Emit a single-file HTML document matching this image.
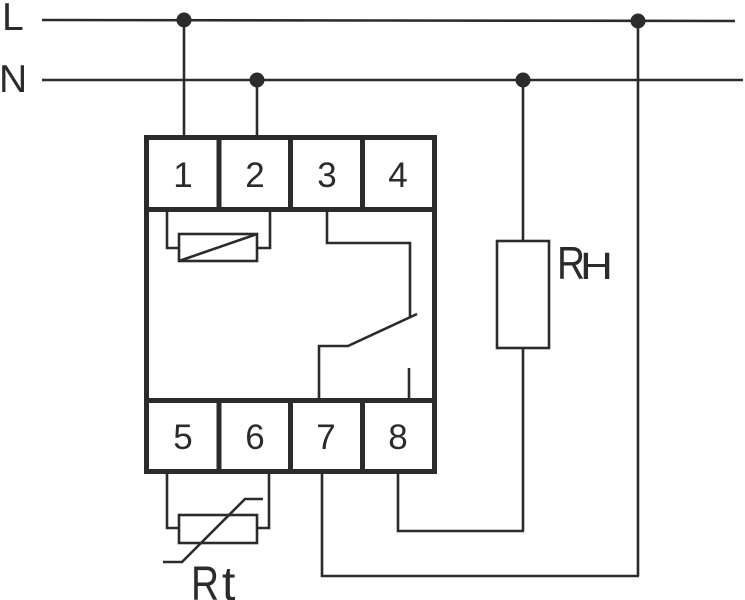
<!DOCTYPE html>
<html><head><meta charset="utf-8"><style>
html,body{margin:0;padding:0;background:#fff;}
svg{display:block;}
text{font-family:"Liberation Sans",sans-serif;fill:#2b2b2b;}
</style></head><body>
<svg width="745" height="600" viewBox="0 0 745 600" xmlns="http://www.w3.org/2000/svg">
<g stroke="#2b2b2b" fill="none" stroke-width="2.6">
  <!-- L and N lines -->
  <line x1="42" y1="20" x2="735" y2="21"/>
  <line x1="42" y1="80" x2="743" y2="80"/>
  <!-- drops -->
  <line x1="184" y1="20" x2="184" y2="136"/>
  <line x1="257" y1="80" x2="257" y2="136"/>
  <line x1="523" y1="80" x2="523" y2="241"/>
  <line x1="638" y1="21" x2="638" y2="576"/>
  <!-- RH resistor -->
  <rect x="497" y="241" width="52" height="107"/>
  <line x1="523" y1="348" x2="523" y2="531"/>
  <polyline points="398,473 398,531 524,531"/>
  <polyline points="322,473 322,576 639,576"/>
  <!-- coil -->
  <polyline points="167,211 167,248 179,248"/>
  <polyline points="270,211 270,248 257,248"/>
  <rect x="179" y="234" width="78" height="27"/>
  <line x1="179" y1="261" x2="257" y2="234"/>
  <!-- contact -->
  <polyline points="327,211 327,243 410,243 410,317"/>
  <polyline points="319,399 319,346 348,346 417,314"/>
  <line x1="409" y1="368" x2="409" y2="399"/>
  <!-- thermistor -->
  <polyline points="167,473 167,528 179,528"/>
  <polyline points="269,473 269,528 257,528"/>
  <rect x="179" y="515" width="78" height="28"/>
  <polyline points="163,562 182,562 245,499 263,499"/>
</g>
<!-- box -->
<g stroke="#2b2b2b" fill="none" stroke-width="5">
  <rect x="146.5" y="137.5" width="288" height="334"/>
  <line x1="146.5" y1="209.5" x2="434.5" y2="209.5"/>
  <line x1="146.5" y1="400.5" x2="434.5" y2="400.5"/>
  <line x1="219" y1="137.5" x2="219" y2="209.5"/>
  <line x1="290.5" y1="137.5" x2="290.5" y2="209.5"/>
  <line x1="362.5" y1="137.5" x2="362.5" y2="209.5"/>
  <line x1="219" y1="400.5" x2="219" y2="471.5"/>
  <line x1="290.5" y1="400.5" x2="290.5" y2="471.5"/>
  <line x1="362.5" y1="400.5" x2="362.5" y2="471.5"/>
</g>
<!-- dots -->
<g fill="#2b2b2b">
  <circle cx="184" cy="20" r="7.5"/>
  <circle cx="257" cy="80" r="7.5"/>
  <circle cx="523" cy="80" r="7.5"/>
  <circle cx="638" cy="21" r="7.5"/>
</g>
<!-- labels -->
<text x="2" y="30" font-size="39">L</text>
<text x="-1" y="92" font-size="39">N</text>
<g font-size="35" text-anchor="middle">
  <text x="183" y="187">1</text>
  <text x="255" y="187">2</text>
  <text x="327" y="187">3</text>
  <text x="398" y="187">4</text>
  <text x="183" y="449">5</text>
  <text x="255" y="449">6</text>
  <text x="326" y="449">7</text>
  <text x="398" y="449">8</text>
</g>
<text x="557" y="279" font-size="46" textLength="28" lengthAdjust="spacingAndGlyphs">R</text>
<text x="580" y="279" font-size="38" textLength="33" lengthAdjust="spacingAndGlyphs">H</text>
<text x="191" y="600" font-size="48" textLength="28" lengthAdjust="spacingAndGlyphs">R</text>
<text x="222" y="600" font-size="48">t</text>
</svg>
</body></html>
